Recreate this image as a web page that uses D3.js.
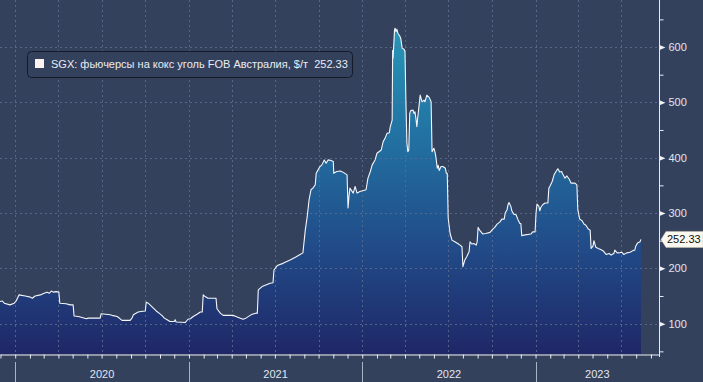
<!DOCTYPE html>
<html><head><meta charset="utf-8">
<script src="https://cdn.jsdelivr.net/npm/d3@7"></script>
<style>
html,body{margin:0;padding:0;background:#34415d;}
svg{display:block;}
text{font-family:"Liberation Sans",Arial,sans-serif;}
</style></head>
<body>
<svg id="c" width="703" height="382"></svg>
<script>
const dates = ["2019-11-30","2019-12-05","2019-12-09","2019-12-21","2019-12-30","2020-01-03","2020-01-09","2020-01-22","2020-02-02","2020-02-06","2020-02-12","2020-02-23","2020-03-02","2020-03-08","2020-03-13","2020-03-17","2020-03-21","2020-03-27","2020-04-02","2020-04-04","2020-04-17","2020-04-26","2020-05-02","2020-05-04","2020-05-13","2020-05-17","2020-05-30","2020-06-03","2020-06-28","2020-06-30","2020-07-19","2020-07-25","2020-08-03","2020-08-13","2020-08-30","2020-09-03","2020-09-06","2020-09-16","2020-09-22","2020-10-01","2020-10-03","2020-10-07","2020-10-11","2020-10-18","2020-10-24","2020-10-30","2020-11-06","2020-11-10","2020-11-16","2020-11-22","2020-12-01","2020-12-03","2020-12-05","2020-12-24","2020-12-30","2021-01-04","2021-01-10","2021-01-18","2021-01-25","2021-01-29","2021-01-31","2021-02-04","2021-02-10","2021-02-27","2021-03-01","2021-03-08","2021-03-14","2021-04-04","2021-04-10","2021-04-19","2021-04-25","2021-05-01","2021-05-10","2021-05-14","2021-05-22","2021-05-25","2021-05-27","2021-06-04","2021-06-21","2021-06-27","2021-06-29","2021-07-06","2021-07-18","2021-08-02","2021-08-15","2021-08-23","2021-08-29","2021-09-03","2021-09-07","2021-09-11","2021-09-15","2021-09-19","2021-09-24","2021-09-26","2021-09-30","2021-10-04","2021-10-08","2021-10-13","2021-10-17","2021-10-21","2021-10-27","2021-11-01","2021-11-02","2021-11-08","2021-11-16","2021-11-23","2021-11-30","2021-12-02","2021-12-04","2021-12-06","2021-12-13","2021-12-17","2021-12-21","2021-12-27","2022-01-09","2022-01-13","2022-01-18","2022-01-22","2022-01-28","2022-02-01","2022-02-10","2022-02-14","2022-02-18","2022-02-22","2022-02-27","2022-03-01","2022-03-03","2022-03-05","2022-03-06","2022-03-07","2022-03-08","2022-03-10","2022-03-11","2022-03-13","2022-03-15","2022-03-17","2022-03-21","2022-03-23","2022-03-26","2022-03-30","2022-04-01","2022-04-03","2022-04-05","2022-04-07","2022-04-09","2022-04-11","2022-04-13","2022-04-18","2022-04-20","2022-04-22","2022-04-24","2022-04-26","2022-04-28","2022-05-03","2022-05-05","2022-05-07","2022-05-11","2022-05-13","2022-05-17","2022-05-22","2022-05-26","2022-05-28","2022-06-01","2022-06-03","2022-06-05","2022-06-08","2022-06-10","2022-06-12","2022-06-16","2022-06-20","2022-06-25","2022-06-27","2022-06-29","2022-07-01","2022-07-05","2022-07-09","2022-07-15","2022-07-21","2022-07-26","2022-07-30","2022-08-01","2022-08-05","2022-08-09","2022-08-14","2022-08-16","2022-08-20","2022-08-24","2022-08-29","2022-08-31","2022-09-02","2022-09-06","2022-09-12","2022-09-18","2022-09-27","2022-10-03","2022-10-07","2022-10-12","2022-10-18","2022-10-22","2022-10-27","2022-10-29","2022-11-02","2022-11-04","2022-11-06","2022-11-10","2022-11-12","2022-11-16","2022-11-21","2022-11-25","2022-11-29","2022-12-01","2022-12-03","2022-12-07","2022-12-22","2022-12-26","2022-12-31","2023-01-02","2023-01-04","2023-01-08","2023-01-10","2023-01-12","2023-01-16","2023-01-21","2023-01-27","2023-01-29","2023-01-31","2023-02-05","2023-02-09","2023-02-13","2023-02-17","2023-02-21","2023-02-25","2023-02-28","2023-03-04","2023-03-08","2023-03-13","2023-03-17","2023-03-25","2023-03-29","2023-03-31","2023-04-04","2023-04-09","2023-04-13","2023-04-17","2023-04-22","2023-04-26","2023-04-28","2023-05-02","2023-05-04","2023-05-08","2023-05-13","2023-05-17","2023-05-23","2023-05-30","2023-06-05","2023-06-09","2023-06-15","2023-06-17","2023-06-22","2023-06-28","2023-07-02","2023-07-06","2023-07-12","2023-07-19","2023-07-25","2023-07-29","2023-07-31","2023-08-04","2023-08-09","2023-08-11"];
const values = [140,141,137,134,137,141,152,150,148,146,150,152,155,157,155,159,157,158,157,137,136,134,134,114,113,112,109,110,110,118,116,114.5,113,106,106,110,116,121,122,123,139,137,134,128,123,119,114,110,107,104,104,107,103,102,108,109,113,117,121,121,152,149,146,146,127,119,115,115,113,110,108,110,115,117,119,119,161,167,173,174,197,205,209,215,221,225,228,269,293,324,342,345,351,372,378,384,387,396,390,396,395,393,372,375,376,373,369,309,330,345,336,348,336,339,342,363,375,387,396,408,414,429,435,444,445,456,462,468,594,580,598,631,634,628,632,625,620,616,598,596,592,500,426,411,414,480,485,486,480,483,471,456,474,513,507,501,504,501,513,509,501,411,417,411,402,381,386,377,384,384,381,372,372,291,263,251,248,245,242,239,203,215,221,230,248,244,245,242,248,274,268,262,263,265,271,274,280,284,289,289,300,306,315,319,312,304,298,297,288,281,281,259,260,262,266,266,300,316,312,304,310,315,318,318,345,348,357,369,375,380,374,375,369,363,367,361,354,354,351,306,289,286,280,278,271,269,236,240,250,238,236,234.5,232,225,227,224,227,233,228,228.5,229,225,228,229,232,233,240,246,248,252.33];
const yTicks = [100,200,300,400,500,600];
const yMinor = [50,150,250,350,450,550,650];
const yearLabels = ["2020","2021","2022","2023"];
const legendText = "SGX: фьючерсы на кокс уголь FOB Австралия, $/т  252.33";
const lastLabel = "252.33";

const W = 703, H = 382, plotR = 659, plotB = 354;
const parse = d3.utcParse("%Y-%m-%d");
const data = dates.map((d,i)=>({date:parse(d), value:values[i]}));

const x = d3.scaleUtc().domain([parse("2019-11-30"), parse("2023-09-18")]).range([0, plotR]);
const y = d3.scaleLinear().domain([45.2, 685]).range([plotB, 0]);

const svg = d3.select("#c");
svg.append("rect").attr("width",W).attr("height",H).attr("fill","#34415d");

const defs = svg.append("defs");
const g = defs.append("linearGradient").attr("id","fillg").attr("gradientUnits","userSpaceOnUse")
  .attr("x1",0).attr("x2",0).attr("y1",0).attr("y2",plotB);
g.append("stop").attr("offset",0).attr("stop-color","#2aa0bd");
g.append("stop").attr("offset",0.35).attr("stop-color","#2276a5");
g.append("stop").attr("offset",0.7).attr("stop-color","#214b88");
g.append("stop").attr("offset",1).attr("stop-color","#1f2767");

// area
const area = d3.area().x(d=>x(d.date)).y0(plotB).y1(d=>y(d.value));
svg.append("path").datum(data).attr("d",area).attr("fill","url(#fillg)");

// gridlines
const grid = svg.append("g").attr("stroke","#5d6d8f").attr("stroke-dasharray","2,3").attr("stroke-width",1).attr("opacity",0.85);
grid.selectAll("line.h").data(yTicks).join("line").attr("class","h")
  .attr("x1",0).attr("x2",plotR).attr("y1",d=>Math.round(y(d))+0.5).attr("y2",d=>Math.round(y(d))+0.5);
const quarters = d3.utcMonth.every(3).range(parse("2020-01-01"), parse("2023-09-18"));
grid.selectAll("line.v").data(quarters).join("line").attr("class","v")
  .attr("x1",d=>Math.round(x(d))+0.5).attr("x2",d=>Math.round(x(d))+0.5).attr("y1",0).attr("y2",plotB);

// line
const line = d3.line().x(d=>x(d.date)).y(d=>y(d.value));
svg.append("path").datum(data).attr("d",line).attr("fill","none").attr("stroke","#f4f6fa").attr("stroke-width",1.1).attr("stroke-linejoin","round");

// x axis
const xAxis = svg.append("g").attr("transform",`translate(0,${plotB+0.5})`)
  .call(d3.axisBottom(x).ticks(d3.utcMonth.every(1)).tickSize(4).tickSizeOuter(0).tickFormat(""));
xAxis.select(".domain").attr("stroke","#e8ecf2");
xAxis.selectAll(".tick line").attr("stroke","#e8ecf2");
// year separators and labels
const years = d3.utcYear.range(parse("2020-01-01"), parse("2024-01-01"));
svg.selectAll("line.sep").data(years).join("line").attr("class","sep")
  .attr("x1",d=>Math.round(x(d))+0.5).attr("x2",d=>Math.round(x(d))+0.5)
  .attr("y1",362).attr("y2",H).attr("stroke","#aab3c4").attr("stroke-width",1);
svg.selectAll("text.yr").data(years).join("text").attr("class","yr")
  .attr("x",(d,i)=>{const a=x(d); const b=Math.min(x(d3.utcYear.offset(d,1)), plotR); return (a+b)/2;})
  .attr("y",378).attr("text-anchor","middle").attr("font-size",11).attr("fill","#e2e6ee")
  .text((d,i)=>yearLabels[i]);

// right axis
const yAxis = svg.append("g").attr("transform",`translate(${plotR+0.5},0)`)
  .call(d3.axisRight(y).tickValues(yTicks).tickSize(0).tickPadding(9).tickFormat(d3.format("d")));
yAxis.select(".domain").remove();
yAxis.selectAll(".tick text").attr("font-size",11).attr("fill","#e2e6ee").attr("font-family","Liberation Sans, Arial, sans-serif");
yAxis.selectAll(".tick").append("path").attr("d","M0,-2.5 L6,0 L0,2.5 Z").attr("fill","#f0f2f6");
const yMinorAxis = svg.append("g").attr("transform",`translate(${plotR+0.5},0)`)
  .call(d3.axisRight(y).tickValues(yMinor).tickSize(4).tickFormat(""));
yMinorAxis.select(".domain").remove();
yMinorAxis.selectAll(".tick line").attr("stroke","#e8ecf2");
svg.append("line").attr("x1",plotR+0.5).attr("x2",plotR+0.5).attr("y1",0).attr("y2",plotB+3).attr("stroke","#e8ecf2");

// last value label
const ly = y(values[values.length-1]);
svg.append("path").attr("d",`M${plotR+2},${ly} L${plotR+7},${ly-8} L${W},${ly-8} L${W},${ly+8} L${plotR+7},${ly+8} Z`)
  .attr("fill","#fbf8f0").attr("stroke","#c8c2b0").attr("stroke-width",0.5);
svg.append("text").attr("x",plotR+8).attr("y",ly+4).attr("font-size",11).attr("fill","#111").text(lastLabel);

// legend
const lg = svg.append("g");
lg.append("rect").attr("x",27.5).attr("y",51.5).attr("width",325).attr("height",26).attr("rx",4)
  .attr("fill","#34415d").attr("stroke","#141a2a").attr("stroke-width",1);
lg.append("rect").attr("x",35).attr("y",59).attr("width",9).attr("height",9).attr("fill","#fcf2f2");
lg.append("text").attr("x",51).attr("y",68).attr("font-size",11).attr("fill","#e8ecf4")
  .style("white-space","pre").text(legendText);
</script>
</body></html>
